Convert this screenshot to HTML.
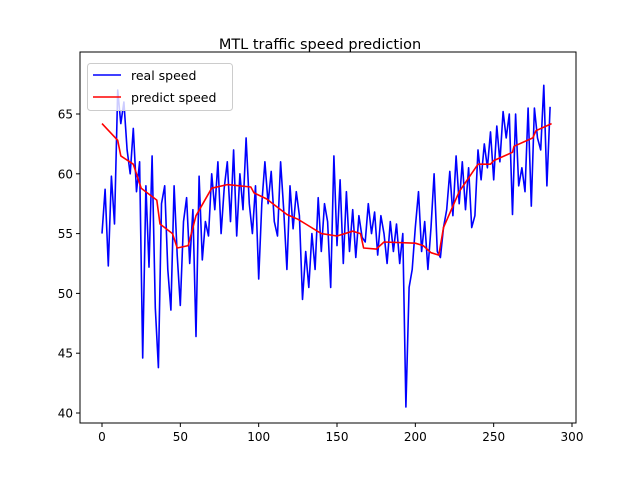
<!DOCTYPE html>
<html><head><meta charset="utf-8"><style>
body{margin:0;background:#fff;font-family:"Liberation Sans","DejaVu Sans",sans-serif}
svg text{font-family:"DejaVu Sans","Liberation Sans",sans-serif}
</style></head><body>
<svg id="c" width="640" height="476" xmlns="http://www.w3.org/2000/svg"></svg>
<script>
const realValues=[55,58.7,52.3,59.8,55.8,67,64.2,66,62,60,63.8,58.5,
61,44.6,59,52.2,61.5,48.8,43.8,57.5,59,52,48.6,59,
53.2,49,56,58,52.5,57,46.4,59.8,52.8,56,54.8,60,
57,61,55,58.8,61,56,62,54.8,60,57,63,57.5,
55,59,51.2,57.5,61,57.5,60.2,56,54.8,61,57,52,
59,55.4,58.5,56.5,49.5,53.5,50.5,55,52,58,53.5,57.5,
56,50.5,61.5,54,59.5,52.5,58.5,53.5,57,53,56.5,54.7,
54.3,57.5,55,56.8,53.2,56.5,55,52.5,56,53.5,55.8,52.5,
55,40.5,50.5,52,55.5,58.5,53.5,56,52,55.5,60,53.5,
53,55.5,57,60.2,56.5,61.5,57.5,61,57,60.5,55.5,56.5,
62,59.5,62.5,60.5,63.5,59.5,64,61,65.2,63,65,56.6,
65,59,60.5,58.5,65.5,57.3,65.5,63,62,67.4,59,65.6];
const predX=[0,10,12,20,25,35,37,45,48,55,60,70,80,95,97,105,115,118,125,130,140,150,160,165,167,175,180,200,205,210,215,218,228,240,248,250,262,263,275,277,287];
const predValues=[64.2,62.8,61.5,60.8,58.8,57.8,55.8,55,53.8,54,56.5,58.8,59.1,58.9,58.4,57.9,56.9,56.6,56.2,55.8,55,54.8,55.2,55,53.8,53.7,54.3,54.2,54,53.4,53.2,55.5,58.5,60.8,60.8,61.1,61.8,62.3,63,63.6,64.2];
const xTicks=[0,50,100,150,200,250,300];
const yTicks=[40,45,50,55,60,65];
const L=80,R=576,T=52,B=423;
const sx=v=>102+v*(572-102)/300;
const sy=v=>413-(v-40)*(413-114)/25;
const svg=document.getElementById('c');const NS='http://www.w3.org/2000/svg';
function mk(t,a,p){const e=document.createElementNS(NS,t);for(const k in a)e.setAttribute(k,a[k]);(p||svg).appendChild(e);return e;}
const t=mk('text',{x:320,y:49,'text-anchor':'middle','font-size':14.5,fill:'#000'});t.textContent='MTL traffic speed prediction';


xTicks.forEach(v=>{const x=sx(v);
 const l=mk('line',{x1:x,x2:x,y1:B,y2:B+4,stroke:'#000'});
 
 
 const s=mk('text',{x:x,y:B+18,'text-anchor':'middle','font-size':12});s.textContent=v;
 
 });
yTicks.forEach(v=>{const y=sy(v);
 const l=mk('line',{x1:L-4,x2:L,y1:y,y2:y,stroke:'#000'});
 
 
 const s=mk('text',{x:L-7,y:y+4.5,'text-anchor':'end','font-size':12});s.textContent=v;
 
 });
const rp=realValues.map((v,i)=>sx(Math.min(i*2,287)).toFixed(1)+','+sy(v).toFixed(1)).join(' ');
const r=mk('polyline',{points:rp,fill:'none',stroke:'#0000ff','stroke-width':1.6,'stroke-linejoin':'round'});


const pp=predValues.map((v,i)=>sx(predX[i]).toFixed(1)+','+sy(v).toFixed(1)).join(' ');
const p=mk('polyline',{points:pp,fill:'none',stroke:'#ff0000','stroke-width':1.6,'stroke-linejoin':'round'});


const f=mk('rect',{x:L,y:T,width:R-L,height:B-T,fill:'none',stroke:'#000','stroke-width':1});


const g=mk('g',{});


mk('rect',{x:87.5,y:63.5,width:145,height:47,rx:3,fill:'#fff','fill-opacity':0.8,stroke:'#ccc'},g);
mk('line',{x1:93,x2:121,y1:75,y2:75,stroke:'#0000ff','stroke-width':1.6},g);
const a=mk('text',{x:131,y:80,'font-size':12.5},g);a.textContent='real speed';


mk('line',{x1:93,x2:121,y1:97,y2:97,stroke:'#ff0000','stroke-width':1.6},g);
const b=mk('text',{x:131,y:102,'font-size':12.5},g);b.textContent='predict speed';


</script>
</body></html>
